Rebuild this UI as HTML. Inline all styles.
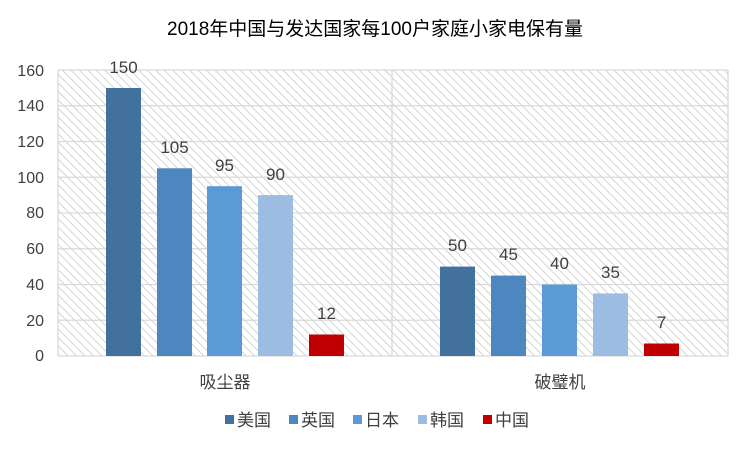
<!DOCTYPE html><html><head><meta charset="utf-8"><style>body{margin:0;background:#fff}svg{display:block}text{font-family:"Liberation Sans","Noto Sans CJK SC",sans-serif;fill:#404040}</style></head><body>
<svg width="750" height="449" viewBox="0 0 750 449">
<defs><pattern id="h" width="6" height="6" patternUnits="userSpaceOnUse" patternTransform="rotate(-45)"><rect width="6" height="6" fill="#fff"/><line x1="0" y1="0" x2="0" y2="6" stroke="#cfcfcf" stroke-width="1.8"/></pattern></defs>
<rect x="58" y="70" width="670" height="286" fill="url(#h)"/>
<g stroke="#d9d9d9" stroke-width="1.3">
<line x1="58" y1="70" x2="728" y2="70"/><line x1="58" y1="105.75" x2="728" y2="105.75"/><line x1="58" y1="141.5" x2="728" y2="141.5"/><line x1="58" y1="177.25" x2="728" y2="177.25"/><line x1="58" y1="213" x2="728" y2="213"/><line x1="58" y1="248.75" x2="728" y2="248.75"/><line x1="58" y1="284.5" x2="728" y2="284.5"/><line x1="58" y1="320.25" x2="728" y2="320.25"/>
<line x1="58" y1="70" x2="58" y2="356"/><line x1="392" y1="70" x2="392" y2="356"/><line x1="728" y1="70" x2="728" y2="356"/>
<line x1="58" y1="356" x2="728" y2="356"/></g>
<text x="375" y="35" text-anchor="middle" font-size="19" style="fill:#000">2018年中国与发达国家每100户家庭小家电保有量</text>
<g font-size="16" text-anchor="end"><text x="44" y="76">160</text><text x="44" y="111">140</text><text x="44" y="147">120</text><text x="44" y="183">100</text><text x="44" y="218">80</text><text x="44" y="254">60</text><text x="44" y="290">40</text><text x="44" y="326">20</text><text x="44" y="361">0</text></g>
<rect x="106" y="88" width="35" height="268" fill="#41719c"/>
<rect x="157" y="168.3" width="35" height="187.7" fill="#4e87bf"/>
<rect x="207" y="186.2" width="35" height="169.8" fill="#5b9bd5"/>
<rect x="258" y="195.1" width="35" height="160.9" fill="#9dbce2"/>
<rect x="309" y="334.5" width="35" height="21.5" fill="#c00000"/>
<rect x="440" y="266.6" width="35" height="89.4" fill="#41719c"/>
<rect x="491" y="275.6" width="35" height="80.4" fill="#4e87bf"/>
<rect x="542" y="284.5" width="35" height="71.5" fill="#5b9bd5"/>
<rect x="593" y="293.4" width="35" height="62.6" fill="#9dbce2"/>
<rect x="644" y="343.5" width="35" height="12.5" fill="#c00000"/>
<g font-size="17" text-anchor="middle">
<text x="123.5" y="73">150</text><text x="174.5" y="153">105</text><text x="224.5" y="171">95</text><text x="275.5" y="180">90</text><text x="326.5" y="319">12</text>
<text x="457.5" y="251">50</text><text x="508.5" y="260">45</text><text x="559.5" y="269">40</text><text x="610.5" y="278">35</text><text x="661.5" y="328">7</text>
<text x="225" y="388">吸尘器</text><text x="560" y="388">破璧机</text></g>
<g font-size="17">
<rect x="225" y="415" width="9" height="9" fill="#41719c"/><text x="237" y="426">美国</text>
<rect x="289" y="415" width="9" height="9" fill="#4e87bf"/><text x="301" y="426">英国</text>
<rect x="353" y="415" width="9" height="9" fill="#5b9bd5"/><text x="365" y="426">日本</text>
<rect x="418" y="415" width="9" height="9" fill="#9dbce2"/><text x="430" y="426">韩国</text>
<rect x="483" y="415" width="9" height="9" fill="#c00000"/><text x="495" y="426">中国</text></g>
</svg></body></html>
